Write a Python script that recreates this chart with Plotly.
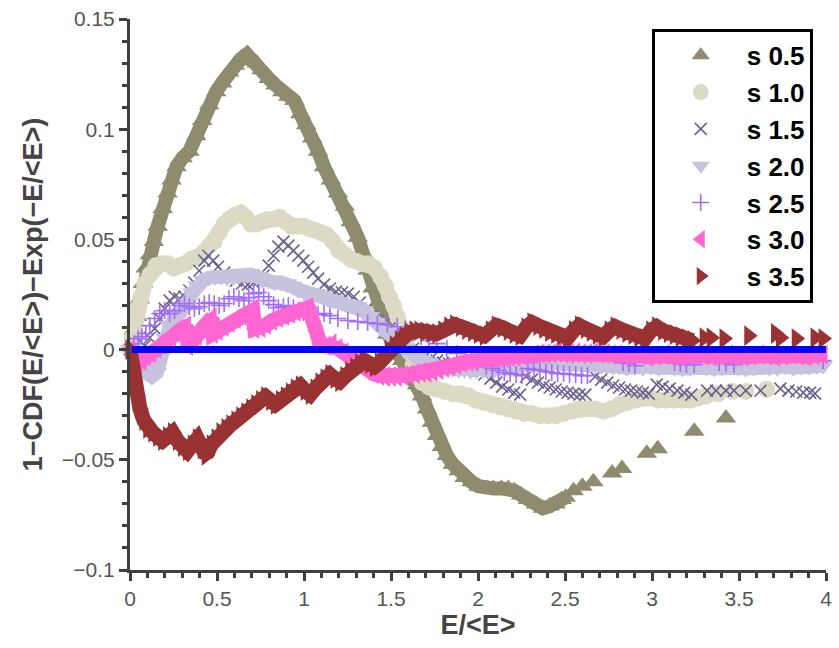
import plotly.graph_objects as go

# ---------------- data ----------------
series_names = ["s 0.5", "s 1.0", "s 1.5", "s 2.0", "s 2.5", "s 3.0", "s 3.5"]

# s 0.5
s05_x = [0.006,0.023,0.040,0.057,0.074,0.091,0.114,0.137,0.159,0.188,
         0.216,0.239,0.267,0.302,0.341,0.381,0.415,0.455,0.495,0.529,
         0.569,0.603,0.637,0.671,0.700,0.728,0.757,0.797,0.836,0.876,
         0.910,0.945,0.979,1.013,1.047,1.081,1.115,1.155,1.195,1.235,
         1.269,1.309,1.337,1.366,1.394,1.422,1.451,1.479,1.508,1.536,
         1.565,1.593,1.622,1.650,1.678,1.707,1.735,1.764,1.792,1.821,
         1.855,1.889,1.923,1.963,2.003,2.048,2.088,2.134,2.174,2.208,
         2.248,2.287,2.333,2.373,2.412,2.446,2.481,2.504]
s05_y = [0.002,0.009,0.015,0.023,0.030,0.037,0.043,0.049,0.056,0.064,
         0.071,0.077,0.083,0.087,0.090,0.097,0.104,0.111,0.117,0.121,
         0.126,0.129,0.132,0.134,0.131,0.130,0.127,0.123,0.120,0.117,
         0.115,0.113,0.107,0.102,0.096,0.090,0.083,0.077,0.071,0.065,
         0.058,0.051,0.044,0.036,0.028,0.021,0.013,0.007,0.002,-0.001,
         -0.005,-0.008,-0.012,-0.016,-0.021,-0.027,-0.033,-0.039,-0.044,-0.048,
         -0.052,-0.055,-0.058,-0.060,-0.062,-0.063,-0.063,-0.063,-0.063,-0.064,
         -0.066,-0.068,-0.070,-0.072,-0.071,-0.070,-0.068,-0.067]
s05_x_sparse = [2.549,2.600,2.663,2.771,2.828,2.970,3.033,3.243,3.425]
s05_y_sparse = [-0.064,-0.062,-0.060,-0.056,-0.054,-0.047,-0.045,-0.037,-0.031]

# s 1.0
s10_x = [0,0.011,0.028,0.046,0.063,0.085,0.114,0.148,0.182,0.216,
         0.250,0.284,0.319,0.353,0.387,0.421,0.455,0.484,0.512,0.541,
         0.569,0.603,0.637,0.666,0.694,0.728,0.757,0.791,0.825,0.859,
         0.893,0.927,0.962,0.996,1.030,1.064,1.098,1.132,1.166,1.201,
         1.235,1.269,1.303,1.337,1.371,1.405,1.440,1.468,1.491,1.514,
         1.536,1.559,1.582,1.605,1.627,1.650,1.679,1.718,1.764,1.809,
         1.855,1.900,1.946,1.991,2.037,2.083,2.128,2.174,2.219,2.265,
         2.310,2.356,2.401,2.447,2.492,2.538,2.583,2.629,2.674,2.720,
         2.765,2.811,2.856,2.902,2.947,2.993,3.038,3.084,3.129,3.175,
         3.220,3.266,3.312]
s10_y = [0,0.005,0.012,0.019,0.024,0.030,0.034,0.038,0.039,0.039,
         0.037,0.038,0.039,0.041,0.042,0.044,0.047,0.049,0.053,0.057,
         0.059,0.061,0.062,0.060,0.057,0.057,0.058,0.059,0.059,0.060,
         0.058,0.056,0.056,0.056,0.055,0.054,0.053,0.052,0.049,0.045,
         0.043,0.041,0.040,0.039,0.039,0.037,0.033,0.029,0.024,0.020,
         0.015,0.010,0.004,-0.001,-0.007,-0.012,-0.015,-0.017,-0.018,-0.019,
         -0.020,-0.020,-0.021,-0.023,-0.024,-0.025,-0.026,-0.027,-0.028,-0.029,
         -0.029,-0.030,-0.030,-0.030,-0.029,-0.028,-0.027,-0.027,-0.027,-0.028,
         -0.027,-0.025,-0.024,-0.023,-0.022,-0.022,-0.023,-0.023,-0.023,-0.023,
         -0.023,-0.022,-0.021]
s10_x_sparse = [3.380,3.460,3.539,3.659]
s10_y_sparse = [-0.020,-0.019,-0.019,-0.018]

# s 1.5
s15_x = [0,0.028,0.057,0.085,0.114,0.142,0.171,0.199,0.228,0.256,
         0.284,0.313,0.341,0.370,0.398,0.427,0.450,0.478,0.506,0.541,
         0.575,0.609,0.643,0.677,0.711,0.740,0.768,0.797,0.825,0.853,
         0.882,0.910,0.939,0.967,0.996,1.024,1.053,1.081,1.115,1.149,
         1.183,1.218,1.252,1.286,1.320,1.354,1.388,1.422,1.457,1.491,
         1.525,1.559,1.593,1.627,1.661,1.696,1.730,1.764,1.798,1.832,
         1.866,1.900,1.934,1.969,2.003,2.037,2.071,2.105,2.139,2.174,
         2.208,2.242,2.276,2.310,2.344,2.378,2.412,2.447,2.481,2.515,
         2.549,2.583,2.617,2.674,2.708,2.743,2.777,2.811,2.845,2.879,
         2.913,2.947,2.981,3.027,3.061,3.101,3.146,3.186,3.226,3.317,
         3.368,3.425,3.471,3.539,3.624,3.738,3.784,3.829,3.869,3.909,
         3.937]
s15_y = [0,-0.0014,-0.0005,0.0018,0.0054,0.0095,0.0141,0.0186,0.0222,0.0240,
         0.0231,0.0240,0.0268,0.0304,0.0358,0.0404,0.0426,0.0404,0.0376,0.0349,
         0.0331,0.0313,0.0299,0.0295,0.0304,0.0313,0.0336,0.0381,0.0426,0.0467,
         0.0490,0.0472,0.0449,0.0426,0.0404,0.0376,0.0349,0.0322,0.0295,0.0277,
         0.0263,0.0259,0.0254,0.0240,0.0213,0.0177,0.0150,0.0132,0.0113,0.0095,
         0.0073,0.0050,0.0027,0.0005,-0.0018,-0.0032,-0.0041,-0.0050,-0.0059,-0.0063,
         -0.0068,-0.0073,-0.0077,-0.0082,-0.0095,-0.0113,-0.0132,-0.0150,-0.0168,-0.0181,
         -0.0195,-0.0204,-0.0122,-0.0136,-0.0150,-0.0163,-0.0172,-0.0181,-0.0190,-0.0195,
         -0.0200,-0.0204,-0.0204,-0.0122,-0.0136,-0.0150,-0.0163,-0.0172,-0.0181,-0.0186,
         -0.0190,-0.0195,-0.0200,-0.0159,-0.0168,-0.0177,-0.0186,-0.0195,-0.0204,-0.0186,
         -0.0186,-0.0186,-0.0186,-0.0186,-0.0186,-0.0177,-0.0186,-0.0190,-0.0195,-0.0195,
         -0.0200]

# s 2.0
s20_x = [0,0.028,0.057,0.091,0.125,0.154,0.182,0.205,0.228,0.262,
         0.296,0.330,0.358,0.387,0.421,0.455,0.489,0.523,0.558,0.592,
         0.626,0.660,0.694,0.728,0.762,0.797,0.831,0.865,0.899,0.933,
         0.967,1.001,1.036,1.070,1.104,1.138,1.172,1.206,1.240,1.275,
         1.309,1.343,1.377,1.411,1.445,1.479,1.514,1.548,1.582,1.616,
         1.650,1.684,1.718,1.753,1.787,1.821,1.855,1.889,1.923,1.957,
         1.991,2.026,2.060,2.094,2.128,2.162,2.196,2.230,2.265,2.299,
         2.333,2.367,2.401,2.435,2.469,2.504,2.538,2.572,2.606,2.640,
         2.674,2.708,2.743,2.777,2.811,2.856,2.902,2.947,2.993,3.038,
         3.084,3.129,3.175,3.220,3.266,3.312,3.357,3.403,3.448,3.494,
         3.539,3.585,3.630,3.676,3.721,3.767,3.812,3.858,3.903,3.949,
         3.983]
s20_y = [0,-0.0041,-0.0077,-0.0104,-0.0122,-0.0104,-0.0027,0.0050,0.0109,0.0141,
         0.0168,0.0209,0.0258,0.0290,0.0313,0.0327,0.0331,0.0331,0.0327,0.0331,
         0.0336,0.0340,0.0340,0.0331,0.0317,0.0313,0.0304,0.0304,0.0299,0.0286,
         0.0272,0.0263,0.0259,0.0254,0.0245,0.0231,0.0227,0.0218,0.0209,0.0204,
         0.0195,0.0177,0.0150,0.0122,0.0095,0.0073,0.0050,0.0032,0.0005,-0.0018,
         -0.0036,-0.0050,-0.0063,-0.0077,-0.0086,-0.0086,-0.0086,-0.0091,-0.0091,-0.0095,
         -0.0095,-0.0095,-0.0095,-0.0091,-0.0086,-0.0082,-0.0077,-0.0073,-0.0068,-0.0063,
         -0.0059,-0.0059,-0.0059,-0.0059,-0.0063,-0.0063,-0.0063,-0.0063,-0.0068,-0.0068,
         -0.0068,-0.0073,-0.0073,-0.0077,-0.0077,-0.0082,-0.0077,-0.0082,-0.0077,-0.0082,
         -0.0077,-0.0082,-0.0086,-0.0082,-0.0077,-0.0082,-0.0086,-0.0082,-0.0077,-0.0082,
         -0.0086,-0.0082,-0.0077,-0.0082,-0.0082,-0.0077,-0.0082,-0.0077,-0.0077,-0.0073,
         -0.0073]

# s 2.5
s25_x = [0,0.023,0.046,0.068,0.091,0.114,0.142,0.171,0.199,0.228,
         0.256,0.284,0.313,0.341,0.370,0.398,0.427,0.455,0.484,0.512,
         0.541,0.569,0.597,0.626,0.654,0.683,0.711,0.740,0.768,0.797,
         0.825,0.853,0.882,0.910,0.939,0.967,0.996,1.024,1.053,1.081,
         1.115,1.149,1.195,1.252,1.309,1.366,1.422,1.479,1.536,1.582,
         1.627,1.673,1.718,1.764,1.821,1.878,1.934,1.991,2.048,2.083,
         2.117,2.151,2.185,2.219,2.253,2.287,2.322,2.356,2.390,2.424,
         2.458,2.492,2.526,2.561,2.595,2.629,2.834,2.868,2.902,3.129,
         3.163,3.198,3.243,3.386,3.425,3.471,3.642,3.983]
s25_y = [0,0.0027,0.0050,0.0059,0.0073,0.0109,0.0141,0.0163,0.0177,0.0163,
         0.0177,0.0200,0.0209,0.0195,0.0186,0.0195,0.0209,0.0213,0.0209,0.0200,
         0.0209,0.0231,0.0240,0.0231,0.0222,0.0236,0.0254,0.0259,0.0240,0.0222,
         0.0204,0.0190,0.0195,0.0200,0.0190,0.0177,0.0168,0.0163,0.0159,0.0159,
         0.0163,0.0154,0.0141,0.0132,0.0127,0.0122,0.0118,0.0113,0.0104,0.0095,
         0.0077,0.0059,0.0041,0.0027,0.0005,-0.0018,-0.0041,-0.0059,-0.0077,-0.0086,
         -0.0095,-0.0104,-0.0109,-0.0113,-0.0118,-0.0086,-0.0091,-0.0095,-0.0100,-0.0104,
         -0.0109,-0.0109,-0.0113,-0.0113,-0.0118,-0.0118,-0.0059,-0.0063,-0.0073,-0.0059,
         -0.0063,-0.0068,-0.0068,-0.0059,-0.0063,-0.0068,-0.0027,-0.0050]

# s 3.0
s30_x = [0,0.023,0.046,0.068,0.097,0.125,0.154,0.182,0.211,0.239,
         0.267,0.296,0.324,0.336,0.358,0.387,0.415,0.444,0.472,0.478,
         0.506,0.541,0.575,0.609,0.643,0.677,0.706,0.717,0.751,0.785,
         0.819,0.853,0.888,0.922,0.956,0.990,1.024,1.047,1.070,1.092,
         1.127,1.161,1.195,1.229,1.263,1.297,1.331,1.366,1.400,1.434,
         1.468,1.502,1.536,1.570,1.605,1.639,1.673,1.707,1.741,1.775,
         1.809,1.844,1.878,1.912,1.946,1.980,2.014,2.048,2.083,2.117,
         2.151,2.185,2.219,2.253,2.287,2.322,2.356,2.390,2.424,2.458,
         2.492,2.526,2.561,2.595,2.629,2.663,2.697,2.731,2.765,2.800,
         2.845,2.891,2.936,2.981,3.027,3.073,3.118,3.163,3.209,3.255,
         3.300,3.346,3.391,3.437,3.482,3.528,3.573,3.619,3.665,3.710,
         3.756,3.801,3.847,3.892,3.937,3.983]
s30_y = [0,-0.0036,-0.0059,-0.0050,-0.0032,-0.0014,0.0005,0.0023,0.0041,0.0059,
         0.0077,0.0095,0.0109,0.0018,0.0032,0.0063,0.0095,0.0122,0.0145,0.0073,
         0.0086,0.0104,0.0122,0.0141,0.0154,0.0168,0.0177,0.0095,0.0100,0.0113,
         0.0132,0.0145,0.0154,0.0163,0.0172,0.0181,0.0190,0.0154,0.0086,0.0027,
         0.0018,0.0027,0.0005,-0.0014,-0.0036,-0.0059,-0.0077,-0.0095,-0.0109,-0.0118,
         -0.0122,-0.0122,-0.0122,-0.0118,-0.0113,-0.0109,-0.0104,-0.0104,-0.0100,-0.0091,
         -0.0082,-0.0077,-0.0068,-0.0059,-0.0054,-0.0050,-0.0045,-0.0041,-0.0041,-0.0036,
         -0.0036,-0.0032,-0.0032,-0.0027,-0.0027,-0.0023,-0.0018,-0.0018,-0.0018,-0.0014,
         -0.0018,-0.0018,-0.0014,-0.0018,-0.0018,-0.0014,-0.0018,-0.0018,-0.0023,-0.0023,
         -0.0027,-0.0023,-0.0027,-0.0032,-0.0027,-0.0023,-0.0027,-0.0032,-0.0027,-0.0023,
         -0.0027,-0.0032,-0.0027,-0.0023,-0.0027,-0.0032,-0.0027,-0.0023,-0.0027,-0.0032,
         -0.0027,-0.0023,-0.0027,-0.0032,-0.0027,-0.0023]

# s 3.5
s35_x = [0,0.011,0.023,0.040,0.057,0.080,0.102,0.131,0.159,0.188,
         0.216,0.245,0.273,0.302,0.330,0.358,0.387,0.415,0.438,0.467,
         0.495,0.523,0.552,0.580,0.609,0.637,0.666,0.694,0.723,0.751,
         0.780,0.808,0.836,0.865,0.893,0.922,0.950,0.979,1.007,1.036,
         1.064,1.092,1.121,1.149,1.178,1.206,1.235,1.263,1.292,1.320,
         1.348,1.377,1.405,1.434,1.462,1.491,1.519,1.548,1.576,1.605,
         1.633,1.661,1.696,1.730,1.764,1.798,1.832,1.866,1.900,1.935,
         1.969,2.003,2.037,2.071,2.105,2.139,2.174,2.208,2.242,2.276,
         2.310,2.344,2.378,2.412,2.447,2.481,2.515,2.549,2.583,2.617,
         2.651,2.686,2.720,2.754,2.788,2.822,2.856,2.891,2.925,2.959,
         2.993,3.027,3.061,3.095,3.129,3.163,3.198,3.232]
s35_y = [0,-0.0073,-0.0141,-0.0209,-0.0268,-0.0322,-0.0358,-0.0376,-0.0395,-0.0413,
         -0.0395,-0.0376,-0.0413,-0.0440,-0.0460,-0.0431,-0.0404,-0.0450,-0.0480,-0.0431,
         -0.0404,-0.0376,-0.0358,-0.0340,-0.0322,-0.0304,-0.0286,-0.0268,-0.0249,-0.0231,
         -0.0213,-0.0231,-0.0249,-0.0231,-0.0213,-0.0195,-0.0177,-0.0163,-0.0186,-0.0204,
         -0.0177,-0.0150,-0.0132,-0.0113,-0.0132,-0.0145,-0.0122,-0.0100,-0.0082,-0.0063,
         -0.0050,-0.0063,-0.0077,-0.0059,-0.0032,-0.0005,0.0018,0.0041,0.0059,0.0077,
         0.0086,0.0086,0.0082,0.0077,0.0073,0.0086,0.0104,0.0113,0.0104,0.0091,
         0.0082,0.0073,0.0063,0.0086,0.0109,0.0100,0.0086,0.0073,0.0063,0.0100,
         0.0122,0.0109,0.0095,0.0082,0.0073,0.0063,0.0054,0.0086,0.0109,0.0095,
         0.0082,0.0068,0.0059,0.0086,0.0104,0.0091,0.0077,0.0068,0.0059,0.0050,
         0.0086,0.0104,0.0086,0.0077,0.0068,0.0059,0.0050,0.0041]
s35_x_sparse = [3.300,3.340,3.414,3.556,3.710,3.738,3.829,3.937,3.983]
s35_y_sparse = [0.0054,0.0054,0.0050,0.0063,0.0073,0.0054,0.0050,0.0054,0.0050]

# reference line y = 0
zero_x = [0.01, 4.0]
zero_y = [0.0, 0.0]

x_ticks = [0, 0.5, 1, 1.5, 2, 2.5, 3, 3.5, 4]
x_tick_text = ["0", "0.5", "1", "1.5", "2", "2.5", "3", "3.5", "4"]
y_ticks = [-0.1, -0.05, 0, 0.05, 0.1, 0.15]
y_tick_text = ["\u22120.1", "\u22120.05", "0", "0.05", "0.1", "0.15"]

# ---------------- styling ----------------
colors = ["#8E8B6E", "#DCDAC4", "#6C6290", "#C7C2DE", "#A06EF5", "#FF66D2", "#993333"]
symbols = ["triangle-up", "circle", "x-thin", "triangle-down", "cross-thin",
           "triangle-left", "triangle-right"]
sizes = [18, 17, 12, 18, 12, 18, 18]
band_widths = [14, 15, 0, 14, 0, 15, 15]

dense = [(s05_x, s05_y), (s10_x, s10_y), (s15_x, s15_y), (s20_x, s20_y),
         (s25_x, s25_y), (s30_x, s30_y), (s35_x, s35_y)]
sparse = [(s05_x_sparse, s05_y_sparse), (s10_x_sparse, s10_y_sparse), ([], []), ([], []),
          ([], []), ([], []), (s35_x_sparse, s35_y_sparse)]

fig = go.Figure()
for i, name in enumerate(series_names):
    dx, dy = dense[i]
    sx, sy = sparse[i]
    if band_widths[i] > 0:
        fig.add_trace(go.Scatter(
            x=dx, y=dy, mode="lines", showlegend=False, legendgroup=name,
            line=dict(color=colors[i], width=band_widths[i]), hoverinfo="skip",
            cliponaxis=False))
    mk = dict(symbol=symbols[i], size=sizes[i], color=colors[i])
    if symbols[i].endswith("thin"):
        mk["line"] = dict(color=colors[i], width=1.6)
    else:
        mk["line"] = dict(width=0)
    fig.add_trace(go.Scatter(
        x=list(dx) + list(sx), y=list(dy) + list(sy), mode="markers",
        name=name, legendgroup=name, marker=mk, cliponaxis=False))

fig.add_trace(go.Scatter(x=zero_x, y=zero_y, mode="lines", showlegend=False,
                         line=dict(color="#0000FF", width=7), cliponaxis=False))

axis_col = "#3f3f3f"
font_fam = "Liberation Sans, Arial, sans-serif"
common = dict(showline=True, linecolor=axis_col, linewidth=3, ticks="outside",
              ticklen=8, tickwidth=3, tickcolor=axis_col, showgrid=False,
              zeroline=False, ticklabeloverflow="allow",
              tickfont=dict(family=font_fam, size=21, color="#555555"))

fig.update_layout(
    width=839, height=648,
    margin=dict(l=130, r=7, t=18, b=78),
    paper_bgcolor="white", plot_bgcolor="white",
    xaxis=dict(range=[0, 4], tickmode="array", tickvals=x_ticks, ticktext=x_tick_text,
               **common,
               minor=dict(dtick=0.1, tick0=0, ticks="outside", ticklen=5, tickwidth=3,
                          tickcolor=axis_col),
               title=dict(text="E/&lt;E&gt;", standoff=6,
                          font=dict(family=font_fam, size=27, color="#444444", weight="bold"))),
    yaxis=dict(range=[-0.1, 0.15], tickmode="array", tickvals=y_ticks, ticktext=y_tick_text,
               **common,
               minor=dict(dtick=0.01, tick0=0, ticks="outside", ticklen=5, tickwidth=3,
                          tickcolor=axis_col),
               title=dict(text="1\u2212CDF(E/&lt;E&gt;)\u2212Exp(\u2212E/&lt;E&gt;)", standoff=12,
                          font=dict(family=font_fam, size=27, color="#444444", weight="bold"))),
    legend=dict(x=0.7496, y=0.982, xanchor="left", yanchor="top",
                bordercolor="black", borderwidth=3, bgcolor="white",
                itemwidth=82, tracegroupgap=0,
                font=dict(family=font_fam, size=26, color="black", weight="bold")),
)

fig.write_html("out.html")
